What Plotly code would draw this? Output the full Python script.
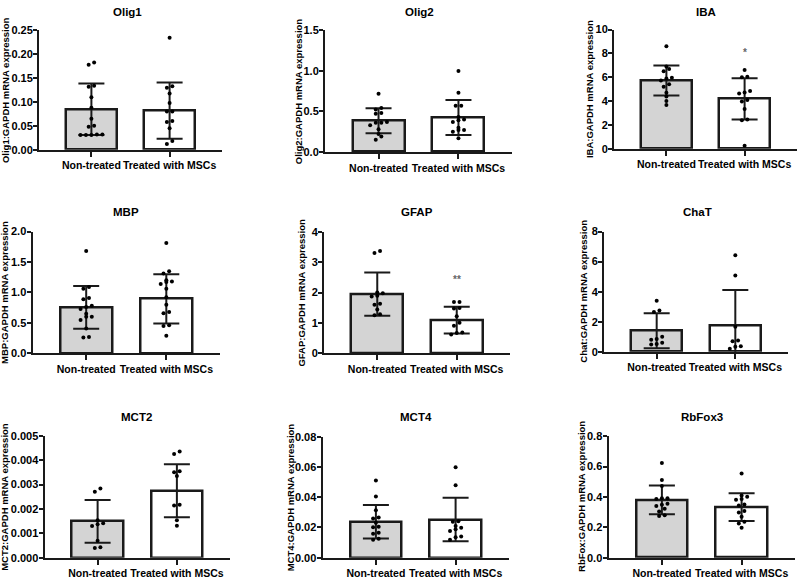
import plotly.graph_objects as go

# ---------------- data ----------------
categories = ["Non-treated", "Treated with MSCs"]
titles = ["Olig1", "Olig2", "IBA", "MBP", "GFAP", "ChaT", "MCT2", "MCT4", "RbFox3"]
ytitles = ["Olig1:GAPDH mRNA expression", "Olig2:GAPDH mRNA expression",
           "IBA:GAPDH mRNA expression", "MBP:GAPDH mRNA expression",
           "GFAP:GAPDH mRNA expression", "Chat:GAPDH mRNA expression",
           "MCT2:GAPDH mRNA expression", "MCT4:GAPDH mRNA expression",
           "RbFox:GAPDH mRNA expression"]

mean_nt = [0.085, 0.385, 5.72, 0.755, 1.95, 1.39, 0.00149, 0.0238, 0.381]
mean_tr = [0.082, 0.425, 4.18, 0.895, 1.09, 1.76, 0.00275, 0.0253, 0.333]
sd_nt = [0.054, 0.155, 1.25, 0.35, 0.72, 1.165, 0.000875, 0.0111, 0.095]
sd_tr = [0.059, 0.215, 1.73, 0.405, 0.445, 2.35, 0.001085, 0.01445, 0.0915]

dots_nt = [
    [0.183, 0.178, 0.134, 0.132, 0.110, 0.088, 0.065, 0.050, 0.048, 0.032, 0.032, 0.031, 0.031, 0.031],
    [0.72, 0.544, 0.524, 0.48, 0.47, 0.37, 0.36, 0.36, 0.33, 0.28, 0.22, 0.19, 0.15],
    [8.6, 6.9, 6.68, 6.5, 5.95, 5.9, 5.73, 5.4, 5.2, 4.7, 4.38, 4.0, 3.67],
    [1.68, 1.09, 1.06, 0.91, 0.89, 0.78, 0.76, 0.73, 0.65, 0.60, 0.60, 0.55, 0.41, 0.27, 0.26],
    [3.38, 3.31, 2.0, 1.98, 1.90, 1.87, 1.63, 1.60, 1.44, 1.28, 1.25],
    [3.39, 2.74, 2.65, 1.0, 0.85, 0.80, 0.59, 0.52, 0.48],
    [0.00284, 0.00271, 0.00154, 0.00141, 0.00137, 0.00130, 0.00070, 0.00043, 0.00040],
    [0.0512, 0.0406, 0.0314, 0.0266, 0.0259, 0.0231, 0.0205, 0.0201, 0.0166, 0.0158, 0.0125, 0.0119],
    [0.624, 0.512, 0.473, 0.391, 0.391, 0.387, 0.355, 0.348, 0.34, 0.323, 0.305, 0.28, 0.275],
]
dots_tr = [
    [0.235, 0.133, 0.130, 0.118, 0.098, 0.080, 0.080, 0.060, 0.058, 0.045, 0.018, 0.012],
    [1.0, 0.73, 0.57, 0.57, 0.43, 0.40, 0.39, 0.37, 0.30, 0.27, 0.27, 0.25, 0.17],
    [6.6, 6.03, 6.0, 4.85, 4.71, 4.63, 4.08, 3.97, 3.34, 2.44, 2.38, 0.25],
    [1.81, 1.35, 1.31, 1.20, 1.18, 1.17, 1.14, 1.06, 0.92, 0.80, 0.68, 0.66, 0.46, 0.45, 0.29],
    [1.69, 1.69, 1.49, 1.47, 1.22, 1.0, 0.9, 0.68, 0.66, 0.61],
    [6.43, 5.07, 1.67, 0.74, 0.70, 0.37, 0.33, 0.20],
    [0.00436, 0.00426, 0.00355, 0.00351, 0.00335, 0.00217, 0.00214, 0.00154, 0.00131],
    [0.0599, 0.048, 0.0242, 0.0238, 0.021, 0.0199, 0.0188, 0.0177, 0.014, 0.0136, 0.0119],
    [0.555, 0.409, 0.402, 0.387, 0.381, 0.351, 0.344, 0.308, 0.297, 0.269, 0.237, 0.226, 0.198],
]
y_max = [0.25, 1.5, 10, 2.0, 4, 8, 0.005, 0.08, 0.8]
y_step = [0.05, 0.5, 2, 0.5, 1, 2, 0.001, 0.02, 0.2]
y_fmt = [".2f", ".1f", "d", ".1f", "d", "d", ".3f", ".2f", ".1f"]
stars = ["", "", "*", "", "**", "", "**", "", ""]
star_y = [None, None, 8.1, None, 2.43, None, 0.00513, None, None]

# ---------------- layout geometry (pixels) ----------------
W, H = 798, 582
# axis left px, axis right px, y-zero px, y-top px
geom = [
    (39, 222, 146.7, 25), (325, 512, 149, 25), (614, 797, 145.7, 24),
    (32.5, 220, 354.7, 230.3), (324, 510, 354.3, 231), (604, 788, 353, 230.3),
    (44.5, 230, 563.3, 439), (322.5, 509, 563.3, 440), (608.5, 795, 563.3, 439.3),
]
ytitle_x = [5, 298, 589, 4.5, 302, 584, 5, 290, 582]
title_pos = [(127, 6), (419, 6), (706, 6), (126, 210), (417, 210), (697, 210),
             (136, 420), (416, 420), (702, 420)]

XR = [-0.67, 1.67]
FONT = "Liberation Sans, Arial, sans-serif"
AX = "#1a1a1a"


def jitter(vals, rng, spacing=0.07):
    srt = sorted(range(len(vals)), key=lambda i: vals[i])
    xs = [0.0] * len(vals)
    groups, cur = [], []
    for i in srt:
        if cur and abs(vals[i] - vals[cur[0]]) > 0.028 * rng:
            groups.append(cur)
            cur = []
        cur.append(i)
    if cur:
        groups.append(cur)
    for g in groups:
        n = len(g)
        for k, i in enumerate(g):
            xs[i] = (k - (n - 1) / 2) * spacing
    return xs


fig = go.Figure()
annotations = []
for p in range(9):
    ax = "" if p == 0 else str(p + 1)
    xa, ya = "x" + ax, "y" + ax
    left, right, y0, yt = geom[p]
    fig.add_trace(go.Bar(
        x=[0, 1], y=[mean_nt[p], mean_tr[p]], width=0.65,
        marker=dict(color=["#d4d4d4", "#ffffff"], line=dict(color=AX, width=2.5)),
        error_y=dict(type="data", array=[sd_nt[p], sd_tr[p]], color=AX,
                     thickness=2, width=13),
        xaxis=xa, yaxis=ya, showlegend=False, hoverinfo="skip"))
    jn = jitter(dots_nt[p], y_max[p])
    jt = jitter(dots_tr[p], y_max[p])
    fig.add_trace(go.Scatter(
        x=[0 + d for d in jn] + [1 + d for d in jt],
        y=dots_nt[p] + dots_tr[p], mode="markers",
        marker=dict(color="#000000", size=4, symbol="circle"),
        cliponaxis=False, xaxis=xa, yaxis=ya, showlegend=False))
    fig.layout["xaxis" + ax] = dict(
        domain=[left / W, right / W], range=XR, anchor=ya,
        tickvals=[0, 1], ticktext=categories, tickangle=0, ticks="outside",
        ticklen=5, tickwidth=2, tickcolor=AX, showline=True, linewidth=2,
        linecolor=AX, showgrid=False, zeroline=False, fixedrange=True,
        tickfont=dict(family=FONT, size=10.5, color="#000", weight="bold"))
    fig.layout["yaxis" + ax] = dict(
        domain=[1 - y0 / H, 1 - yt / H], range=[0, y_max[p]], anchor=xa,
        dtick=y_step[p], tick0=0, tickformat=y_fmt[p], ticks="outside",
        ticklen=4, tickwidth=2, tickcolor=AX, showline=True, linewidth=2,
        linecolor=AX, showgrid=False, zeroline=False, fixedrange=True,
        ticklabelstandoff=-2,
        tickfont=dict(family=FONT, size=11, color="#000", weight="bold"))
    annotations.append(dict(
        text=titles[p], x=title_pos[p][0] / W, y=1 - title_pos[p][1] / H,
        xref="paper", yref="paper", showarrow=False, xanchor="center",
        yanchor="middle", font=dict(family=FONT, size=11.5, color="#000", weight="bold")))
    annotations.append(dict(
        text=ytitles[p], x=ytitle_x[p] / W, y=1 - (y0 + yt) / 2 / H,
        xref="paper", yref="paper", showarrow=False, textangle=-90,
        xanchor="center", yanchor="middle",
        font=dict(family=FONT, size=9.5, color="#000", weight="bold")))
    if stars[p]:
        annotations.append(dict(
            text=stars[p], x=1, y=star_y[p], xref=xa, yref=ya, showarrow=False,
            xanchor="center", yanchor="middle",
            font=dict(family=FONT, size=10, color="#666666", weight="bold")))

fig.update_layout(
    width=W, height=H, margin=dict(l=0, r=0, t=0, b=0, pad=0),
    paper_bgcolor="white", plot_bgcolor="white", annotations=annotations,
    bargap=0)
fig.write_html(
    "out.html", config={"displayModeBar": False},
    post_script="document.body.style.margin='0px';document.body.style.overflow='hidden';")
